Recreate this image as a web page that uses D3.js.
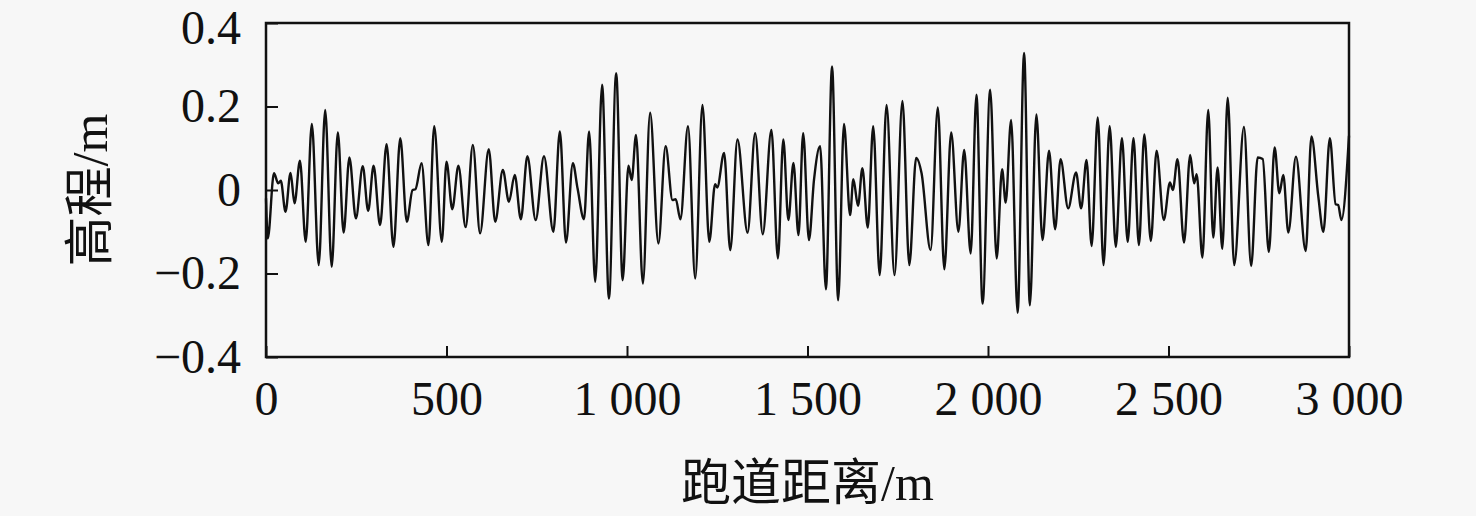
<!DOCTYPE html>
<html><head><meta charset="utf-8">
<script src="https://cdn.jsdelivr.net/npm/d3@7"></script>
<style>
html,body{margin:0;padding:0;background:#f7f7f7;}
svg{display:block;}
text{font-family:"Liberation Serif","Times New Roman","Noto Sans CJK SC",serif;fill:#111;}
</style></head>
<body>
<svg id="chart" width="1476" height="516"></svg>
<script>
// runway distance (m) of local extrema / shape points
const distance = [0,5,22,34,41,54,68,79,94,110,127,146,164,182,199,215,231,249,268,283,298,316,334,353,372,390,406,414,431,450,466,487,
500,516,533,553,573,593,617,635,656,673,689,706,724,747,770,796,814,831,850,863,881,895,912,931,950,970,988,
1004,1013,1025,1044,1064,1087,1107,1126,1135,1148,1169,1189,1209,1228,1244,1250,1269,1286,1306,1334,1355,1376,1400,1418,1433,1447,1461,1475,1488,
1504,1518,1535,1551,1568,1585,1601,1618,1627,1640,1652,1667,1682,1700,1719,1741,1763,1782,1801,1816,1841,1861,1879,1898,1918,1934,1952,1968,1985,
2006,2024,2039,2049,2064,2082,2100,2116,2134,2151,2169,2186,2201,2222,2244,2258,2273,2287,2304,2320,2337,2354,2371,2387,2403,2418,2433,2451,2467,2487,
2504,2512,2525,2543,2560,2571,2578,2594,2610,2624,2636,2649,2664,2682,2709,2729,2747,2761,2778,2794,2807,2818,2832,2853,2880,2896,2915,2929,2947,2963,2970,2979,3000];
// elevation (m)
const elevation = [-0.02,-0.116,0.040,0.016,0.022,-0.052,0.041,-0.032,0.070,-0.124,0.158,-0.180,0.192,-0.184,0.138,-0.102,0.078,-0.068,0.057,-0.050,0.058,-0.084,0.110,-0.136,0.124,-0.076,0.0,0.002,0.064,-0.132,0.153,-0.124,
0.068,-0.046,0.058,-0.089,0.108,-0.104,0.098,-0.076,0.048,-0.028,0.036,-0.070,0.081,-0.072,0.081,-0.100,0.140,-0.126,0.064,0.004,-0.070,0.140,-0.220,0.252,-0.260,0.280,-0.216,
0.058,0.024,0.132,-0.224,0.185,-0.128,0.105,-0.024,-0.022,-0.070,0.153,-0.212,0.204,-0.124,0.014,0.006,0.089,-0.144,0.121,-0.102,0.136,-0.106,0.144,-0.164,0.121,-0.072,0.065,-0.108,0.136,
-0.120,0.024,0.105,-0.238,0.296,-0.264,0.158,-0.060,0.026,-0.038,0.052,-0.090,0.153,-0.204,0.204,-0.204,0.213,-0.180,0.077,0.040,-0.144,0.198,-0.190,0.138,-0.100,0.096,-0.152,0.228,-0.272,
0.240,-0.164,0.050,-0.030,0.168,-0.294,0.328,-0.276,0.181,-0.120,0.094,-0.094,0.074,-0.044,0.042,-0.044,0.072,-0.134,0.174,-0.180,0.153,-0.136,0.124,-0.124,0.124,-0.132,0.133,-0.122,0.094,-0.072,
0.018,0.0,0.074,-0.126,0.084,0.016,0.038,-0.162,0.192,-0.114,0.054,-0.141,0.221,-0.180,0.151,-0.182,0.078,0.074,-0.148,0.102,-0.008,0.036,-0.102,0.080,-0.146,0.128,-0.016,-0.100,0.124,-0.034,-0.036,-0.072,0.130];
const xTicks = [0,500,1000,1500,2000,2500,3000];
const xTickLabels = ["0","500","1 000","1 500","2 000","2 500","3 000"];
const yTicks = [-0.4,-0.2,0,0.2,0.4];
const yTickLabels = ["\u22120.4","\u22120.2","0","0.2","0.4"];
const xTitle = "跑道距离/m";
const yTitle = "高程/m";

const svg = d3.select("#chart");
const L = 266, R = 1349, T = 23, B = 357;
const x = d3.scaleLinear().domain([0,3000]).range([L,R]);
const y = d3.scaleLinear().domain([-0.4,0.4]).range([B,T]);

const pts = distance.map((d,i)=>[d, elevation[i]]);
svg.append("path")
  .datum(pts)
  .attr("fill","none")
  .attr("stroke","#111")
  .attr("stroke-width",2.4)
  .attr("stroke-linejoin","round")
  .attr("d", d3.line().x(d=>x(d[0])).y(d=>y(d[1])).curve(d3.curveMonotoneX));

// axes (inward ticks)
const xAxis = d3.axisBottom(x).tickValues(xTicks).tickSize(-11).tickFormat((d,i)=>xTickLabels[i]).tickPadding(24);
const gx = svg.append("g").attr("transform",`translate(0,${B})`).call(xAxis);
const yAxis = d3.axisLeft(y).tickValues(yTicks).tickSize(-12).tickFormat((d,i)=>yTickLabels[i]).tickPadding(25);
const gy = svg.append("g").attr("transform",`translate(${L},0)`).call(yAxis);
[gx,gy].forEach(g=>{
  g.select(".domain").remove();
  g.selectAll(".tick line").attr("stroke","#111").attr("stroke-width",2);
  g.selectAll(".tick text").attr("font-size",48).attr("fill","#111")
   .style("font-family",'"Liberation Serif","Times New Roman",serif');
});
gx.selectAll(".tick text").attr("dy","0.71em");
gy.selectAll(".tick text").filter(d=>d===0.4).attr("y",5);
// frame
svg.append("rect").attr("x",L).attr("y",T).attr("width",R-L).attr("height",B-T)
  .attr("fill","none").attr("stroke","#111").attr("stroke-width",2.5);

svg.append("text").attr("x",(L+R)/2).attr("y",500).attr("text-anchor","middle")
  .attr("font-size",50).text(xTitle);
svg.append("text").attr("transform",`translate(107,${(T+B)/2}) rotate(-90)`)
  .attr("text-anchor","middle").attr("font-size",50).text(yTitle);
</script>
</body></html>
